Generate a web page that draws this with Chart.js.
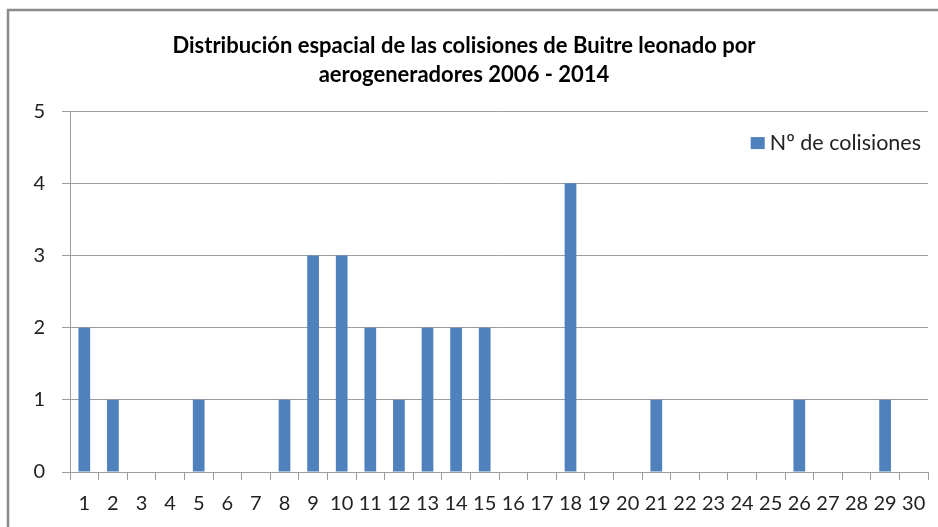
<!DOCTYPE html>
<html>
<head>
<meta charset="utf-8">
<script src="https://cdn.jsdelivr.net/npm/chart.js@4/dist/chart.umd.min.js"></script>
<style>
  html, body { margin: 0; padding: 0; background: #ffffff; }
  #wrap { position: relative; width: 938px; height: 527px; }
</style>
</head>
<body>
<div id="wrap"><canvas id="c" width="938" height="527"></canvas></div>
<script>
const categories = ["1","2","3","4","5","6","7","8","9","10","11","12","13","14","15","16","17","18","19","20","21","22","23","24","25","26","27","28","29","30"];
const collisions = [2,1,0,0,1,0,0,1,3,3,2,1,2,2,2,0,0,4,0,0,1,0,0,0,0,1,0,0,1,0];
const seriesLabel = "Nº de colisiones";
const titleLines = ["Distribución espacial de las colisiones de Buitre leonado por", "aerogeneradores 2006 - 2014"];
const yTicks = [0,1,2,3,4,5];

const FONT = "Lato, 'Open Sans', sans-serif";
const GRID = "#9c9c9c";

const frame = {
  id: 'frame',
  afterDraw(chart) {
    const ctx = chart.ctx;
    ctx.save();
    ctx.strokeStyle = '#8a8a8a';
    ctx.lineWidth = 2.5;
    ctx.strokeRect(8, 10, 1200, 1200);
    ctx.restore();
  }
};

// Legend drawn inside the plot area, top-right, from the dataset itself
const insideLegend = {
  id: 'insideLegend',
  afterDatasetsDraw(chart) {
    const ctx = chart.ctx;
    const ds = chart.data.datasets[0];
    const area = chart.chartArea;
    ctx.save();
    ctx.font = "21.5px " + FONT;
    const tw = ctx.measureText(ds.label).width;
    const textRight = area.right - 7;
    const textX = textRight - tw;
    const cy = area.top + 32;
    ctx.fillStyle = ds.backgroundColor;
    ctx.fillRect(textX - 19, cy - 6, 14, 12);
    ctx.fillStyle = '#222222';
    ctx.textBaseline = 'middle';
    ctx.textAlign = 'left';
    ctx.fillText(ds.label, textX, cy);
    ctx.restore();
  }
};

new Chart(document.getElementById('c'), {
  type: 'bar',
  data: {
    labels: categories,
    datasets: [{
      label: seriesLabel,
      data: collisions,
      backgroundColor: '#4F81BD',
      borderWidth: 0,
      barPercentage: 0.41,
      categoryPercentage: 1.0
    }]
  },
  options: {
    responsive: false,
    animation: false,
    devicePixelRatio: 1,
    layout: { padding: { left: 0, right: 10, top: 0, bottom: 0 } },
    plugins: {
      title: {
        display: true,
        text: titleLines,
        color: '#000000',
        font: { family: FONT, size: 22, weight: 'bold', lineHeight: 1.32 },
        padding: { top: 31, bottom: 22 }
      },
      legend: { display: false },
      tooltip: { enabled: false }
    },
    scales: {
      x: {
        grid: {
          offset: true,
          drawOnChartArea: false,
          drawTicks: true,
          tickLength: 8,
          color: GRID
        },
        border: { color: GRID },
        ticks: {
          color: '#222222',
          font: { family: FONT, size: 20 },
          padding: 12,
          maxRotation: 0,
          autoSkip: false
        },
        afterFit(scale) { scale.height = 55; }
      },
      y: {
        min: 0,
        max: 5,
        afterBuildTicks(scale) { scale.ticks = yTicks.map(v => ({ value: v })); },
        grid: { color: GRID, tickLength: 8 },
        border: { color: GRID },
        ticks: {
          color: '#222222',
          font: { family: FONT, size: 20 },
          padding: 17
        },
        afterFit(scale) { scale.width = 70; }
      }
    }
  },
  plugins: [frame, insideLegend]
});
</script>
</body>
</html>
